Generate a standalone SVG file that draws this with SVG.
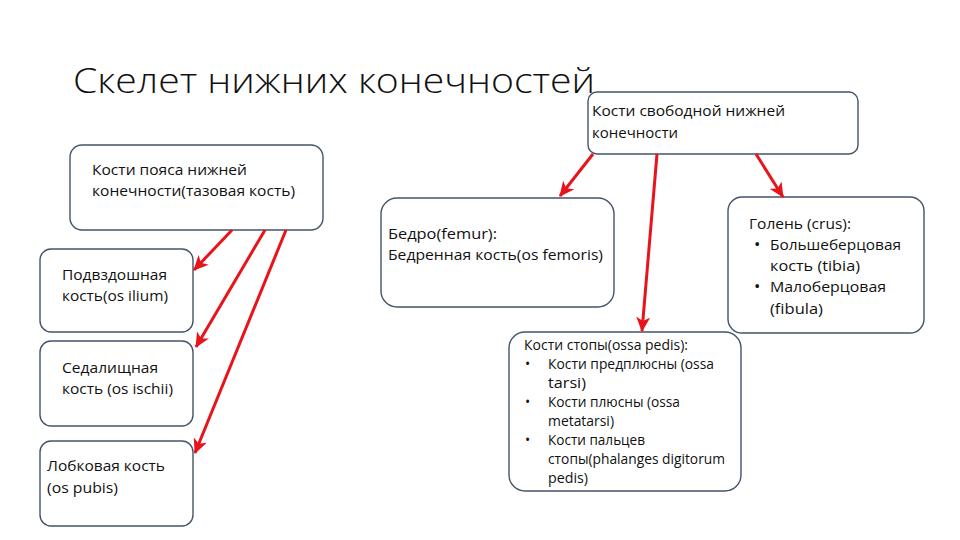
<svg xmlns="http://www.w3.org/2000/svg" width="960" height="540" viewBox="0 0 960 540">
<defs>
<style>
.box{fill:#fff;stroke:#44546a;stroke-width:1.4}
.t{font-family:"Open Sans","Liberation Sans",sans-serif;font-size:15px;fill:#111}
.s{font-size:13.8px}
.title{font-family:"Open Sans","Liberation Sans",sans-serif;font-size:35px;fill:#111;font-weight:300}
.c{stroke:#e8141b;stroke-width:3;fill:none;marker-end:url(#ah)}
</style>
<marker id="ah" markerUnits="userSpaceOnUse" markerWidth="16" markerHeight="14" refX="14" refY="7" orient="auto">
<path d="M0,0 L15,7 L0,14 L4,7 Z" fill="#e8141b"/>
</marker>
</defs>
<rect width="960" height="540" fill="#fff"/>
<text class="title" x="73" y="93" textLength="522" lengthAdjust="spacingAndGlyphs">Скелет нижних конечностей</text>

<g id="free">
<rect class="box" x="588" y="92" width="270" height="62" rx="9"/>
<text class="t" x="592" y="116" textLength="193" lengthAdjust="spacingAndGlyphs">Кости свободной нижней</text>
<text class="t" x="592" y="138" textLength="86" lengthAdjust="spacingAndGlyphs">конечности</text>
</g>
<g id="pelvis">
<rect class="box" x="70" y="145" width="253" height="85" rx="12"/>
<text class="t" x="92" y="175" textLength="155" lengthAdjust="spacingAndGlyphs">Кости пояса нижней</text>
<text class="t" x="92" y="196" textLength="203" lengthAdjust="spacingAndGlyphs">конечности(тазовая кость)</text>
</g>
<g id="ilium">
<rect class="box" x="40" y="249" width="153" height="83" rx="11"/>
<text class="t" x="62" y="280" textLength="105" lengthAdjust="spacingAndGlyphs">Подвздошная</text>
<text class="t" x="62" y="301" textLength="106" lengthAdjust="spacingAndGlyphs">кость(os ilium)</text>
</g>
<g id="ischium">
<rect class="box" x="40" y="341" width="153" height="85" rx="11"/>
<text class="t" x="62" y="373" textLength="96" lengthAdjust="spacingAndGlyphs">Седалищная</text>
<text class="t" x="62" y="394" textLength="111" lengthAdjust="spacingAndGlyphs">кость (os ischii)</text>
</g>
<g id="pubis">
<rect class="box" x="40" y="441" width="153" height="85" rx="11"/>
<text class="t" x="47" y="471" textLength="118" lengthAdjust="spacingAndGlyphs">Лобковая кость</text>
<text class="t" x="47" y="493" textLength="71" lengthAdjust="spacingAndGlyphs">(os pubis)</text>
</g>
<g id="femur">
<rect class="box" x="381" y="198" width="233" height="109" rx="16"/>
<text class="t" x="388" y="239" textLength="109" lengthAdjust="spacingAndGlyphs">Бедро(femur):</text>
<text class="t" x="388" y="260" textLength="215" lengthAdjust="spacingAndGlyphs">Бедренная кость(os femoris)</text>
</g>
<g id="crus">
<rect class="box" x="728" y="197" width="196" height="136" rx="14"/>
<text class="t" x="749" y="229" textLength="102" lengthAdjust="spacingAndGlyphs">Голень (crus):</text>
<text class="t" x="754" y="250" style="font-size:17px">•</text>
<text class="t" x="770" y="250" textLength="131" lengthAdjust="spacingAndGlyphs">Большеберцовая</text>
<text class="t" x="770" y="271" textLength="90" lengthAdjust="spacingAndGlyphs">кость (tibia)</text>
<text class="t" x="754" y="292" style="font-size:17px">•</text>
<text class="t" x="770" y="292" textLength="116" lengthAdjust="spacingAndGlyphs">Малоберцовая</text>
<text class="t" x="770" y="314" textLength="53" lengthAdjust="spacingAndGlyphs">(fibula)</text>
</g>
<g id="foot">
<rect class="box" x="509" y="332" width="232" height="159" rx="16"/>
<text class="t s" x="524" y="350" textLength="164" lengthAdjust="spacingAndGlyphs">Кости стопы(ossa pedis):</text>
<text class="t s" x="525" y="369">•</text>
<text class="t s" x="548" y="369" textLength="166" lengthAdjust="spacingAndGlyphs">Кости предплюсны (ossa</text>
<text class="t s" x="548" y="388" textLength="38" lengthAdjust="spacingAndGlyphs">tarsi)</text>
<text class="t s" x="525" y="407">•</text>
<text class="t s" x="548" y="407" textLength="132" lengthAdjust="spacingAndGlyphs">Кости плюсны (ossa</text>
<text class="t s" x="548" y="426" textLength="66" lengthAdjust="spacingAndGlyphs">metatarsi)</text>
<text class="t s" x="525" y="445">•</text>
<text class="t s" x="548" y="445" textLength="97" lengthAdjust="spacingAndGlyphs">Кости пальцев</text>
<text class="t s" x="548" y="464" textLength="177" lengthAdjust="spacingAndGlyphs">стопы(phalanges digitorum</text>
<text class="t s" x="548" y="483" textLength="40" lengthAdjust="spacingAndGlyphs">pedis)</text>
</g>

<g id="connectors">
<line class="c" x1="232" y1="230" x2="194" y2="270"/>
<line class="c" x1="265" y1="230" x2="196" y2="347"/>
<line class="c" x1="286" y1="230" x2="195" y2="453"/>
<line class="c" x1="593" y1="154" x2="560" y2="196"/>
<line class="c" x1="657" y1="154" x2="642" y2="331"/>
<line class="c" x1="756" y1="154" x2="783" y2="197"/>
</g>
</svg>
